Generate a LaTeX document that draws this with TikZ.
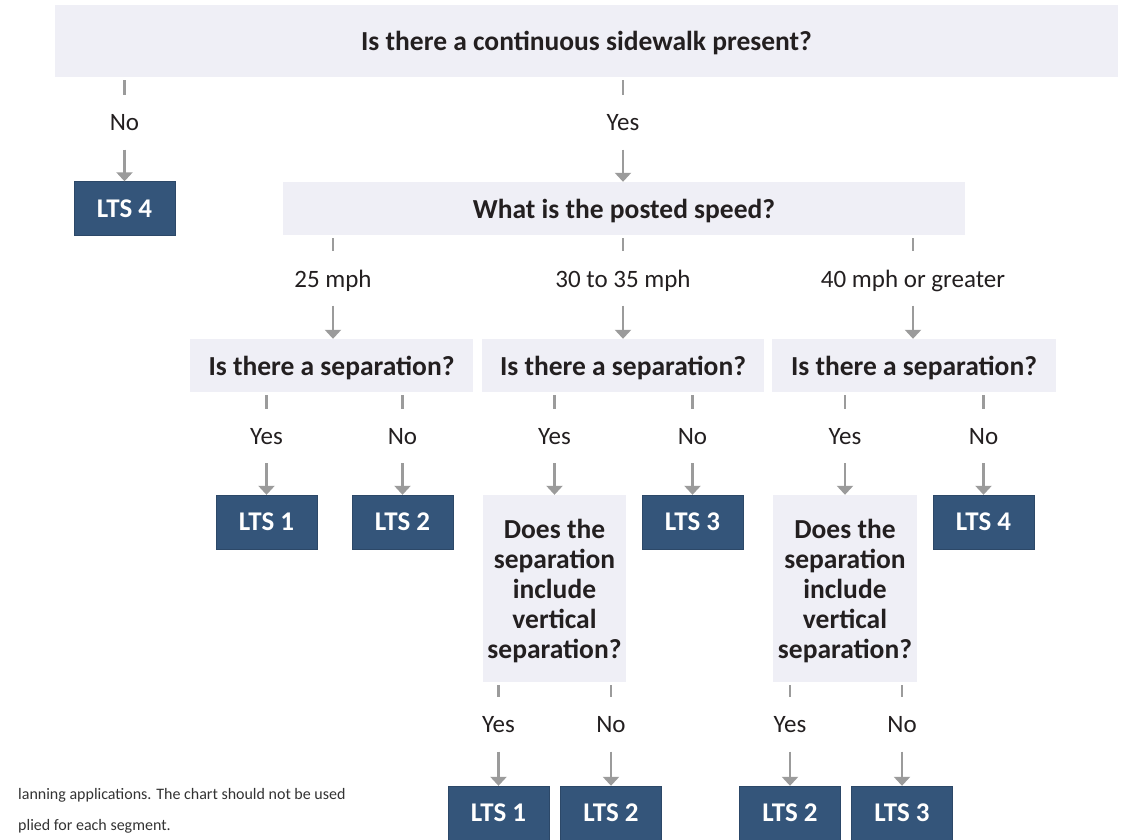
\documentclass[tikz,border=0pt]{standalone}
\usepackage{fontspec}
\setmainfont{Carlito}
\usetikzlibrary{positioning, arrows.meta}
\definecolor{boxgrey}{HTML}{EFEFF6}
\definecolor{ltsblue}{HTML}{34557A}
\definecolor{linegrey}{HTML}{9B9B9B}
\definecolor{textdark}{HTML}{231F20}
\definecolor{notegrey}{HTML}{333333}

\begin{document}
\begin{tikzpicture}[x=1pt, y=-1pt,
  question/.style={fill=boxgrey, text=textdark, inner sep=0pt, align=center, text depth=0pt,
    font=\fontsize{27.5}{30}\selectfont\bfseries},
  lts/.style={fill=ltsblue, draw=ltsblue!85!black, text=white, inner sep=0pt, text depth=0pt,
    minimum width=101pt, minimum height=54pt, font=\fontsize{27}{30}\selectfont\bfseries},
  answer/.style={text=textdark, inner sep=0pt, minimum height=54pt, text depth=0pt,
    font=\fontsize{25}{28}\selectfont},
  stub/.style={draw=linegrey, line width=2.5pt},
  arrow/.style={stub, -{Triangle[width=16pt, length=9pt]}}]
\useasboundingbox (0,0) rectangle (1124,839);

\node (top) at (586.5,41) [question, minimum width=1063pt, minimum height=72pt]
  {Is there a continuous sidewalk present?};
\node (noT)  at (124.5,122.5) [answer] {No};
\node (yesT) at (623,122.5)   [answer] {Yes};
\node (lts0) at (124.5,208.5) [lts] {LTS 4};
\node (speed) at (624,208.5)  [question, minimum width=682pt, minimum height=53pt]
  {What is the posted speed?};

\node (s1) at (333,278.5) [answer] {25 mph};
\node (s2) at (623,278.5) [answer] {30 to 35 mph};
\node (s3) at (913,278.5) [answer] {40 mph or greater};

\node (sep1) at (331.5,365.5) [question, minimum width=283pt, minimum height=53pt] {Is there a separation?};
\node (sep2) at (623,365.5)   [question, minimum width=282pt, minimum height=53pt] {Is there a separation?};
\node (sep3) at (914,365.5)   [question, minimum width=284pt, minimum height=53pt] {Is there a separation?};

\node (y1) at (266.5,436) [answer] {Yes};
\node (n1) at (402.5,436) [answer] {No};
\node (y2) at (554.5,436) [answer] {Yes};
\node (n2) at (692.5,436) [answer] {No};
\node (y3) at (845,436)   [answer] {Yes};
\node (n3) at (983.5,436) [answer] {No};

\node (a1) at (266.5,522) [lts] {LTS 1};
\node (a2) at (402.5,522) [lts] {LTS 2};
\node (a3) at (692.5,522) [lts] {LTS 3};
\node (a4) at (983.5,522) [lts] {LTS 4};
\node (vert1) at (554.5,588.5) [question, minimum width=143pt, minimum height=187pt]
  {Does the\\separation\\include\\vertical\\separation?};
\node (vert2) at (845,588.5)   [question, minimum width=144pt, minimum height=187pt]
  {Does the\\separation\\include\\vertical\\separation?};

\node (y4) at (498.5,724.5) [answer] {Yes};
\node (n4) at (611,724.5)   [answer] {No};
\node (y5) at (790,724.5)   [answer] {Yes};
\node (n5) at (902,724.5)   [answer] {No};

\node (b1) at (498.5,813) [lts] {LTS 1};
\node (b2) at (611,813)   [lts] {LTS 2};
\node (c1) at (790,813)   [lts] {LTS 2};
\node (c2) at (902,813)   [lts] {LTS 3};

\node (note1) at (18,795) [anchor=west, inner sep=0pt, text=notegrey, font=\fontsize{16}{18}\selectfont]
  {lanning applications. The chart should not be used};
\node (note2) at (18,826) [anchor=west, inner sep=0pt, text=notegrey, font=\fontsize{16}{18}\selectfont]
  {plied for each segment.};

\draw[stub, shorten <=3pt] (top.south -| noT) -- (noT.north);
\draw[stub, shorten <=3pt] (top.south -| yesT) -- (yesT.north);
\draw[arrow] (noT.south) -- (noT.south |- lts0.north);
\draw[arrow] (yesT.south) -- (yesT.south |- speed.north);

\draw[stub, shorten <=3pt] (speed.south -| s1) -- (s1.north);
\draw[stub, shorten <=3pt] (speed.south -| s2) -- (s2.north);
\draw[stub, shorten <=3pt] (speed.south -| s3) -- (s3.north);
\draw[arrow] (s1.south) -- (s1.south |- sep1.north);
\draw[arrow] (s2.south) -- (s2.south |- sep2.north);
\draw[arrow] (s3.south) -- (s3.south |- sep3.north);

\draw[stub, shorten <=3pt] (sep1.south -| y1) -- (y1.north);
\draw[stub, shorten <=3pt] (sep1.south -| n1) -- (n1.north);
\draw[stub, shorten <=3pt] (sep2.south -| y2) -- (y2.north);
\draw[stub, shorten <=3pt] (sep2.south -| n2) -- (n2.north);
\draw[stub, shorten <=3pt] (sep3.south -| y3) -- (y3.north);
\draw[stub, shorten <=3pt] (sep3.south -| n3) -- (n3.north);
\draw[arrow] (y1.south) -- (y1.south |- a1.north);
\draw[arrow] (n1.south) -- (n1.south |- a2.north);
\draw[arrow] (y2.south) -- (y2.south |- vert1.north);
\draw[arrow] (n2.south) -- (n2.south |- a3.north);
\draw[arrow] (y3.south) -- (y3.south |- vert2.north);
\draw[arrow] (n3.south) -- (n3.south |- a4.north);

\draw[stub, shorten <=3pt] (vert1.south -| y4) -- (y4.north);
\draw[stub, shorten <=3pt] (vert1.south -| n4) -- (n4.north);
\draw[stub, shorten <=3pt] (vert2.south -| y5) -- (y5.north);
\draw[stub, shorten <=3pt] (vert2.south -| n5) -- (n5.north);
\draw[arrow] (y4.south) -- (y4.south |- b1.north);
\draw[arrow] (n4.south) -- (n4.south |- b2.north);
\draw[arrow] (y5.south) -- (y5.south |- c1.north);
\draw[arrow] (n5.south) -- (n5.south |- c2.north);
\end{tikzpicture}
\end{document}
